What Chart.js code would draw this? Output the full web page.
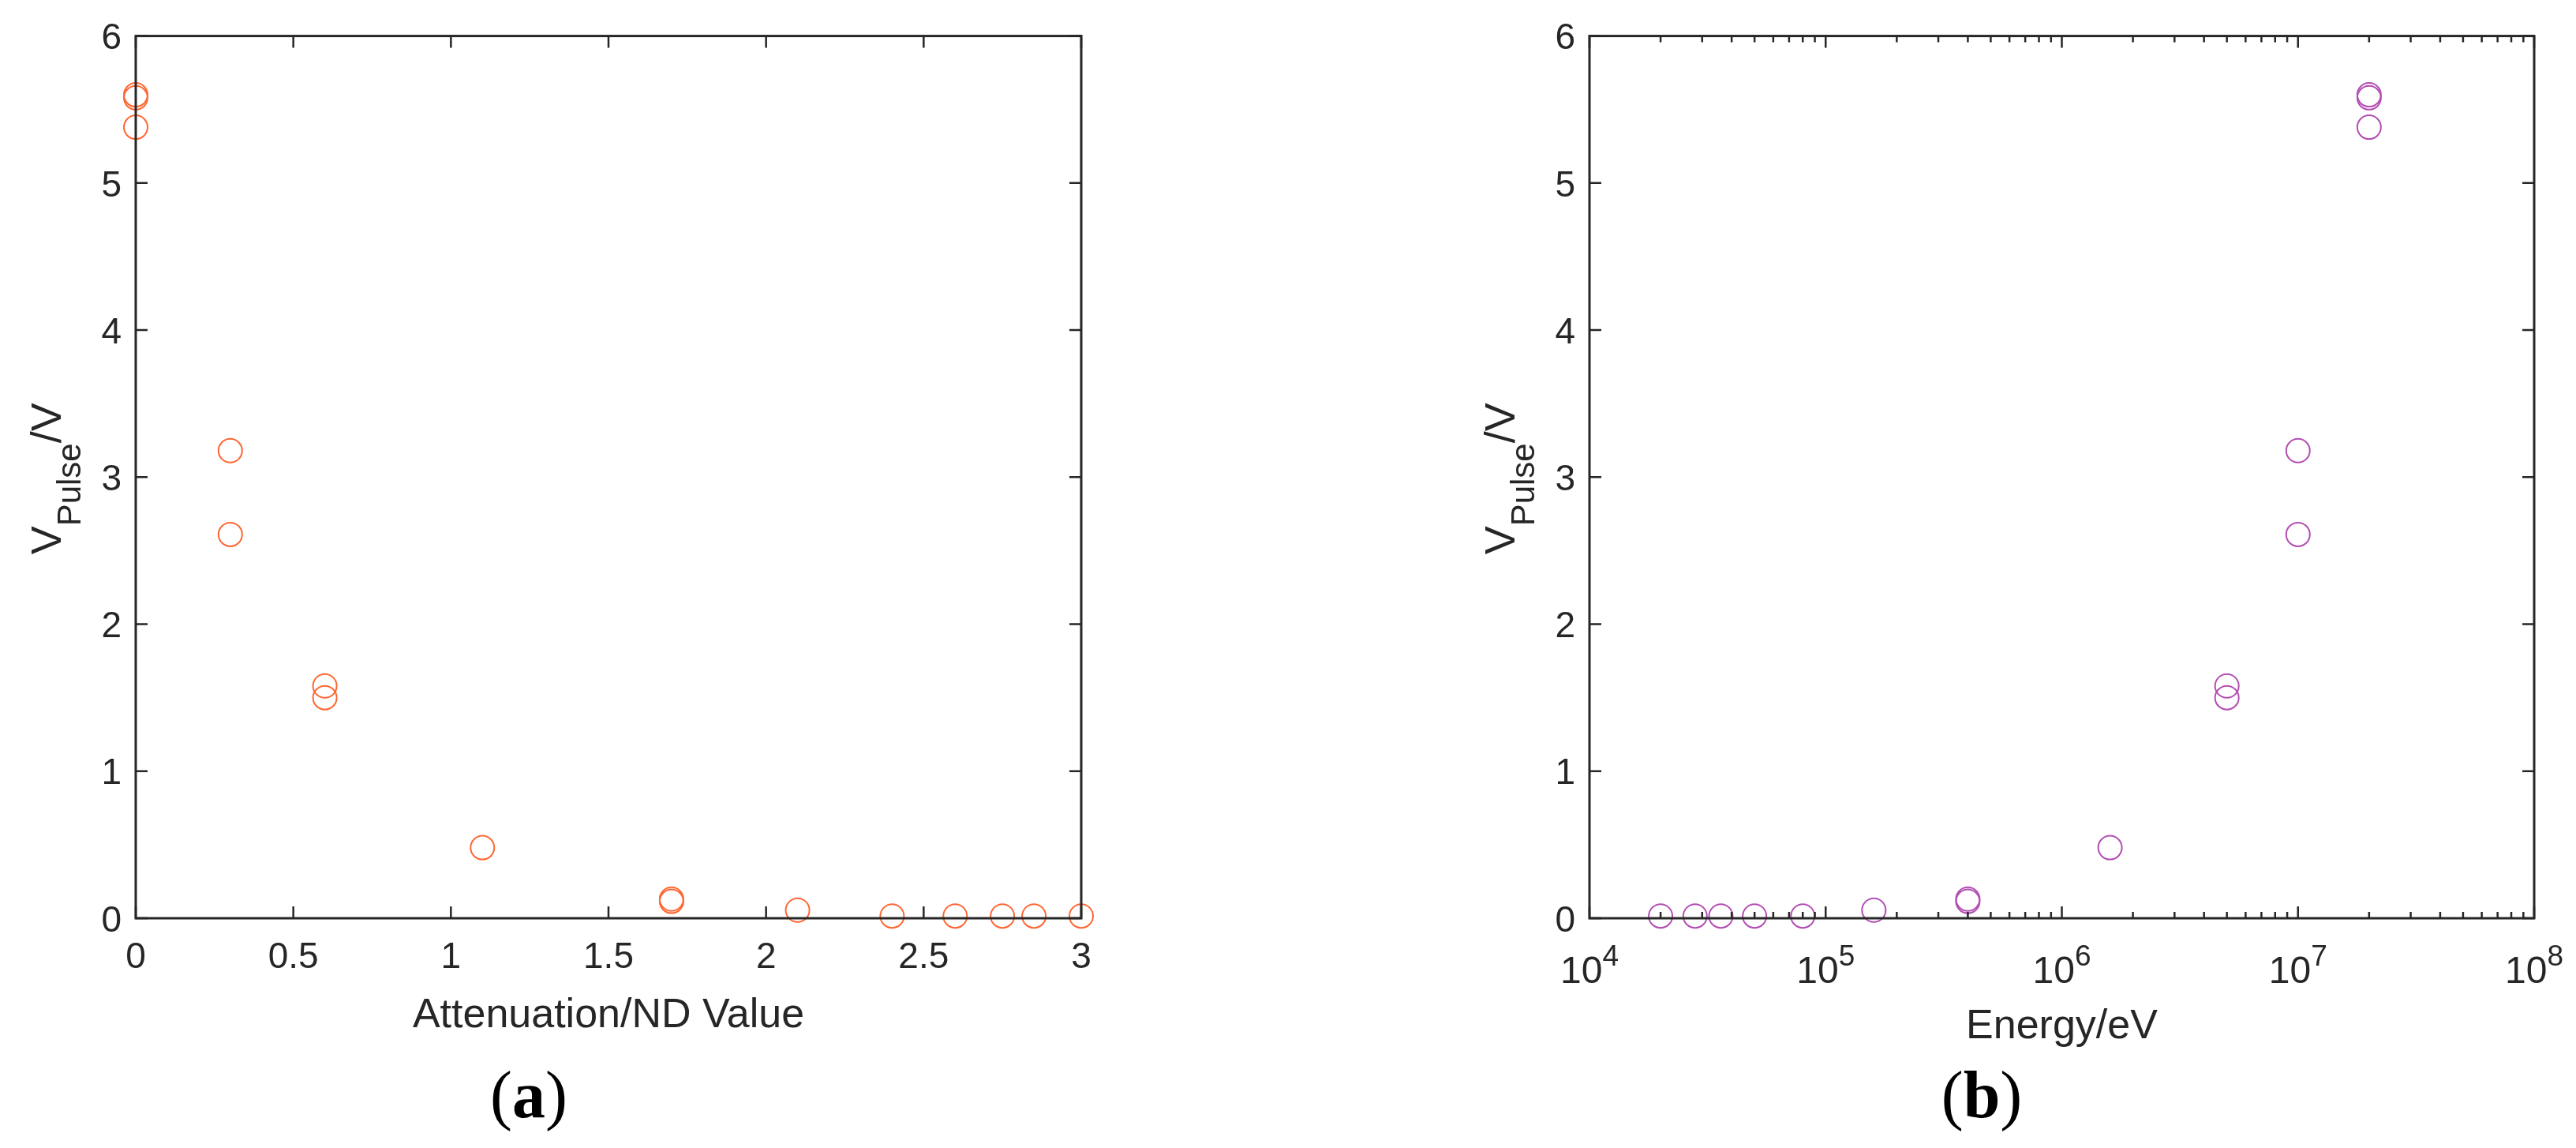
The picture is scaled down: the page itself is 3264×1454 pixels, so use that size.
<!DOCTYPE html>
<html>
<head>
<meta charset="utf-8">
<script src="https://cdn.jsdelivr.net/npm/chart.js@4.4.1/dist/chart.umd.min.js"></script>
<style>
  body { margin: 0; background: #fff; }
  #wrap { position: relative; width: 3264px; height: 1454px; }
  canvas { position: absolute; top: 0; }
  .cap { position: absolute; top: 1345px; width: 400px; text-align: center;
         font-family: "Liberation Serif", "Times New Roman", serif; font-size: 84px;
         line-height: 84px; color: #000; }
</style>
</head>
<body>
<div id="wrap">
  <canvas id="chartA" width="1632" height="1454" style="left:0"></canvas>
  <canvas id="chartB" width="1632" height="1454" style="left:1632px"></canvas>
  <div class="cap" style="left:470px">(<b>a</b>)</div>
  <div class="cap" style="left:2311px">(<b>b</b>)</div>
</div>
<script>
// Datos
const ndValues   = [0, 0, 0, 0.3, 0.3, 0.6, 0.6, 1.1, 1.7, 1.7, 2.1, 2.4, 2.6, 2.75, 2.85, 3.0];
const energyEv   = [2e7, 2e7, 2e7, 1e7, 1e7, 5e6, 5e6, 1.6e6, 4e5, 4e5, 1.6e5, 8e4, 5e4, 3.6e4, 2.8e4, 2e4];
const pulseVolts = [5.60, 5.58, 5.38, 3.18, 2.61, 1.58, 1.50, 0.48, 0.13, 0.115, 0.055, 0.015, 0.015, 0.015, 0.015, 0.015];

const ndTicks = [0, 0.5, 1, 1.5, 2, 2.5, 3];
const voltTicks = [0, 1, 2, 3, 4, 5, 6];
const energyDecades = [1e4, 1e5, 1e6, 1e7, 1e8];
const minorSteps = [2, 3, 4, 5, 6, 7, 8, 9];

const ink = '#262626';
Chart.defaults.font.family = '"Liberation Sans", Arial, sans-serif';
Chart.defaults.color = ink;

// Caja estilo MATLAB con marcas hacia dentro
const matlabAxes = {
    id: 'matlabAxes',
    afterDatasetsDraw(chart, args, opts) {
        const { ctx, chartArea: a, scales: { x, y } } = chart;
        ctx.save();
        ctx.strokeStyle = ink;
        ctx.lineWidth = 2.5;
        ctx.beginPath();
        const xTick = (v, len) => {
            const px = x.getPixelForValue(v);
            ctx.moveTo(px, a.bottom); ctx.lineTo(px, a.bottom - len);
            ctx.moveTo(px, a.top); ctx.lineTo(px, a.top + len);
        };
        opts.xMajor.forEach(v => xTick(v, 15));
        (opts.xMinor || []).forEach(v => xTick(v, 8));
        voltTicks.forEach(v => {
            const py = y.getPixelForValue(v);
            ctx.moveTo(a.left, py); ctx.lineTo(a.left + 15, py);
            ctx.moveTo(a.right, py); ctx.lineTo(a.right - 15, py);
        });
        ctx.stroke();
        ctx.lineWidth = 3;
        ctx.strokeRect(a.left, a.top, a.right - a.left, a.bottom - a.top);
        ctx.restore();
    },
    afterDraw(chart, args, opts) {
        const { ctx, chartArea: a, scales: { x } } = chart;
        ctx.save();
        ctx.fillStyle = ink;
        ctx.textBaseline = 'alphabetic';
        // etiqueta del eje y: V_Pulse/V
        const big = '54px "Liberation Sans"';
        const small = '42px "Liberation Sans"';
        ctx.font = big;
        const w1 = ctx.measureText('V').width;
        const w3 = ctx.measureText('/V').width;
        ctx.font = small;
        const w2 = ctx.measureText('Pulse').width;
        ctx.translate(a.left - 95, (a.top + a.bottom) / 2 + 2);
        ctx.rotate(-Math.PI / 2);
        let sx = -(w1 + w2 + w3) / 2;
        ctx.font = big; ctx.fillText('V', sx, 0); sx += w1;
        ctx.font = small; ctx.fillText('Pulse', sx, 25); sx += w2;
        ctx.font = big; ctx.fillText('/V', sx, 0);
        ctx.setTransform(1, 0, 0, 1, 0, 0);
        // etiquetas 10^n del eje logarítmico
        if (opts.powerLabels) {
            const base = '48px "Liberation Sans"';
            const sup = '37px "Liberation Sans"';
            energyDecades.forEach(v => {
                const px = x.getPixelForValue(v);
                const e = String(Math.round(Math.log10(v)));
                ctx.font = base; const wb = ctx.measureText('10').width;
                ctx.font = sup; const we = ctx.measureText(e).width;
                const left = px - (wb + we) / 2;
                ctx.font = base; ctx.fillText('10', left, a.bottom + 82);
                ctx.font = sup; ctx.fillText(e, left + wb, a.bottom + 60);
            });
        }
        ctx.restore();
    }
};

function yAxis() {
    return {
        min: 0, max: 6,
        afterFit: s => { s.width = 172; },
        grid: { display: false, drawTicks: false },
        border: { display: false },
        ticks: { stepSize: 1, padding: 18, labelOffset: 4, font: { size: 46 }, color: ink }
    };
}

function makeChart(id, data, color, xScale, pad, extra) {
    return new Chart(document.getElementById(id), {
        type: 'scatter',
        data: {
            datasets: [{
                data: data,
                borderColor: color,
                backgroundColor: 'rgba(0,0,0,0)',
                pointRadius: 15,
                pointHoverRadius: 15,
                borderWidth: 2,
                clip: false
            }]
        },
        options: {
            responsive: false,
            animation: false,
            devicePixelRatio: 1,
            layout: { padding: pad },
            plugins: { legend: { display: false }, tooltip: { enabled: false }, matlabAxes: extra },
            scales: { x: xScale, y: yAxis() }
        },
        plugins: [matlabAxes]
    });
}

// (a) atenuación
const ptsA = ndValues.map((v, i) => ({ x: v, y: pulseVolts[i] }));
makeChart('chartA', ptsA, '#FF6633', {
    type: 'linear', min: 0, max: 3,
    afterFit: s => { s.height = 200; },
    grid: { display: false, drawTicks: false },
    border: { display: false },
    ticks: { stepSize: 0.5, padding: 23, font: { size: 46 }, color: ink, maxRotation: 0, autoSkip: false,
             callback: v => String(v) },
    title: { display: true, text: 'Attenuation/ND Value', font: { size: 52 }, color: ink, padding: { top: 0, bottom: 45 } }
}, { left: 0, top: 45, right: 262, bottom: 91 }, { xMajor: ndTicks });

// (b) energía
const minorE = [];
energyDecades.slice(0, -1).forEach(d => minorSteps.forEach(m => minorE.push(d * m)));
const ptsB = energyEv.map((v, i) => ({ x: v, y: pulseVolts[i] }));
makeChart('chartB', ptsB, '#B34DB3', {
    type: 'logarithmic', min: 1e4, max: 1e8,
    afterFit: s => { s.height = 200; },
    grid: { display: false, drawTicks: false },
    border: { display: false },
    ticks: { display: false },
    title: { display: true, text: 'Energy/eV', font: { size: 52 }, color: ink, padding: { top: 0, bottom: 31 } }
}, { left: 210, top: 45, right: 53, bottom: 91 }, { xMajor: energyDecades, xMinor: minorE, powerLabels: true });
</script>
</body>
</html>
